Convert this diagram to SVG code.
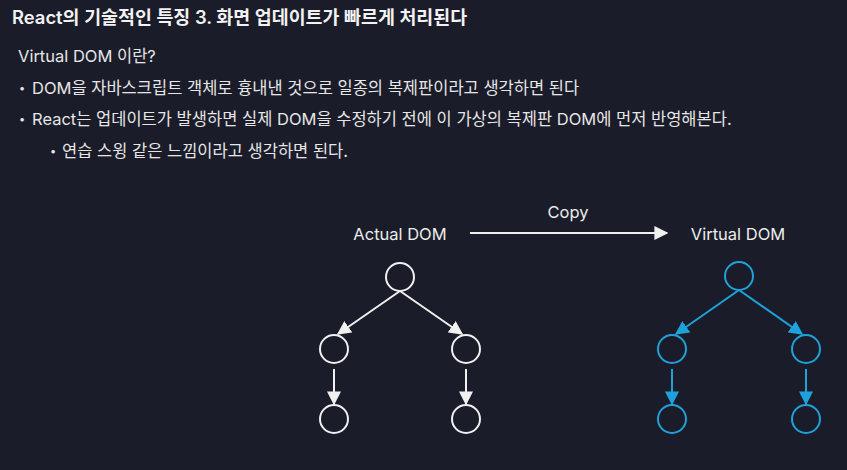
<svg xmlns="http://www.w3.org/2000/svg" width="847" height="470" viewBox="0 0 847 470">
<defs>
<style>
.t{font-family:Inter,"Noto Sans CJK KR",sans-serif;fill:#f2f2f2}
.title{font-size:18.4px;font-weight:600}
.body{font-size:16.5px;fill:#e6e6e6}
.dot{font-size:11px;fill:#e6e6e6}
.lbl{font-size:16.5px;fill:#ececec}
.nw{fill:none;stroke:#f0f0f0;stroke-width:2}
.nb{fill:none;stroke:#1ea2dc;stroke-width:2}
.ew{stroke:#f0f0f0;stroke-width:2;fill:none}
.eb{stroke:#1ea2dc;stroke-width:2;fill:none}
</style>
<marker id="aw" viewBox="0 0 10 10" refX="9" refY="5" markerWidth="7" markerHeight="7" markerUnits="strokeWidth" orient="auto"><path d="M0,0L10,5L0,10z" fill="#f0f0f0"/></marker>
<marker id="ab" viewBox="0 0 10 10" refX="9" refY="5" markerWidth="7" markerHeight="7" markerUnits="strokeWidth" orient="auto"><path d="M0,0L10,5L0,10z" fill="#1ea2dc"/></marker>
</defs>
<rect width="847" height="470" fill="#1b1c29"/>
<g id="text">
<text class="t title" x="12" y="24">React의 기술적인 특징 3. 화면 업데이트가 빠르게 처리된다</text>
<text class="t body" x="18" y="62">Virtual DOM 이란?</text>
<text class="t dot" x="19" y="92">•</text>
<text class="t body" x="32" y="94">DOM을 자바스크립트 객체로 흉내낸 것으로 일종의 복제판이라고 생각하면 된다</text>
<text class="t dot" x="19" y="123">•</text>
<text class="t body" x="32" y="125">React는 업데이트가 발생하면 실제 DOM을 수정하기 전에 이 가상의 복제판 DOM에 먼저 반영해본다.</text>
<text class="t dot" x="50" y="155">•</text>
<text class="t body" x="62" y="157">연습 스윙 같은 느낌이라고 생각하면 된다.</text>
</g>
<g id="label-actual"><text class="t lbl" x="400" y="240" text-anchor="middle">Actual DOM</text></g>
<g id="label-virtual"><text class="t lbl" x="738" y="240" text-anchor="middle">Virtual DOM</text></g>
<g id="label-copy"><text class="t lbl" x="568" y="218" text-anchor="middle">Copy</text></g>
<g id="a-root"><circle class="nw" cx="400" cy="277" r="14"/></g>
<g id="a-l1"><circle class="nw" cx="334" cy="349" r="14"/></g>
<g id="a-r1"><circle class="nw" cx="466" cy="349" r="14"/></g>
<g id="a-l2"><circle class="nw" cx="334" cy="419" r="14"/></g>
<g id="a-r2"><circle class="nw" cx="466" cy="419" r="14"/></g>
<g id="v-root"><circle class="nb" cx="739" cy="276" r="14"/></g>
<g id="v-l1"><circle class="nb" cx="672" cy="349" r="14"/></g>
<g id="v-r1"><circle class="nb" cx="806" cy="349" r="14"/></g>
<g id="v-l2"><circle class="nb" cx="672" cy="419" r="14"/></g>
<g id="v-r2"><circle class="nb" cx="806" cy="419" r="14"/></g>
<g id="connectors">
<line class="ew" x1="470" y1="233" x2="667" y2="233" marker-end="url(#aw)"/>
<line class="ew" x1="400" y1="291" x2="338" y2="334" marker-end="url(#aw)"/>
<line class="ew" x1="400" y1="291" x2="462" y2="334" marker-end="url(#aw)"/>
<line class="ew" x1="334" y1="369" x2="334" y2="404" marker-end="url(#aw)"/>
<line class="ew" x1="466" y1="369" x2="466" y2="404" marker-end="url(#aw)"/>
<line class="eb" x1="739" y1="290" x2="676" y2="334" marker-end="url(#ab)"/>
<line class="eb" x1="739" y1="290" x2="802" y2="334" marker-end="url(#ab)"/>
<line class="eb" x1="672" y1="369" x2="672" y2="404" marker-end="url(#ab)"/>
<line class="eb" x1="806" y1="369" x2="806" y2="404" marker-end="url(#ab)"/>
</g>
</svg>
